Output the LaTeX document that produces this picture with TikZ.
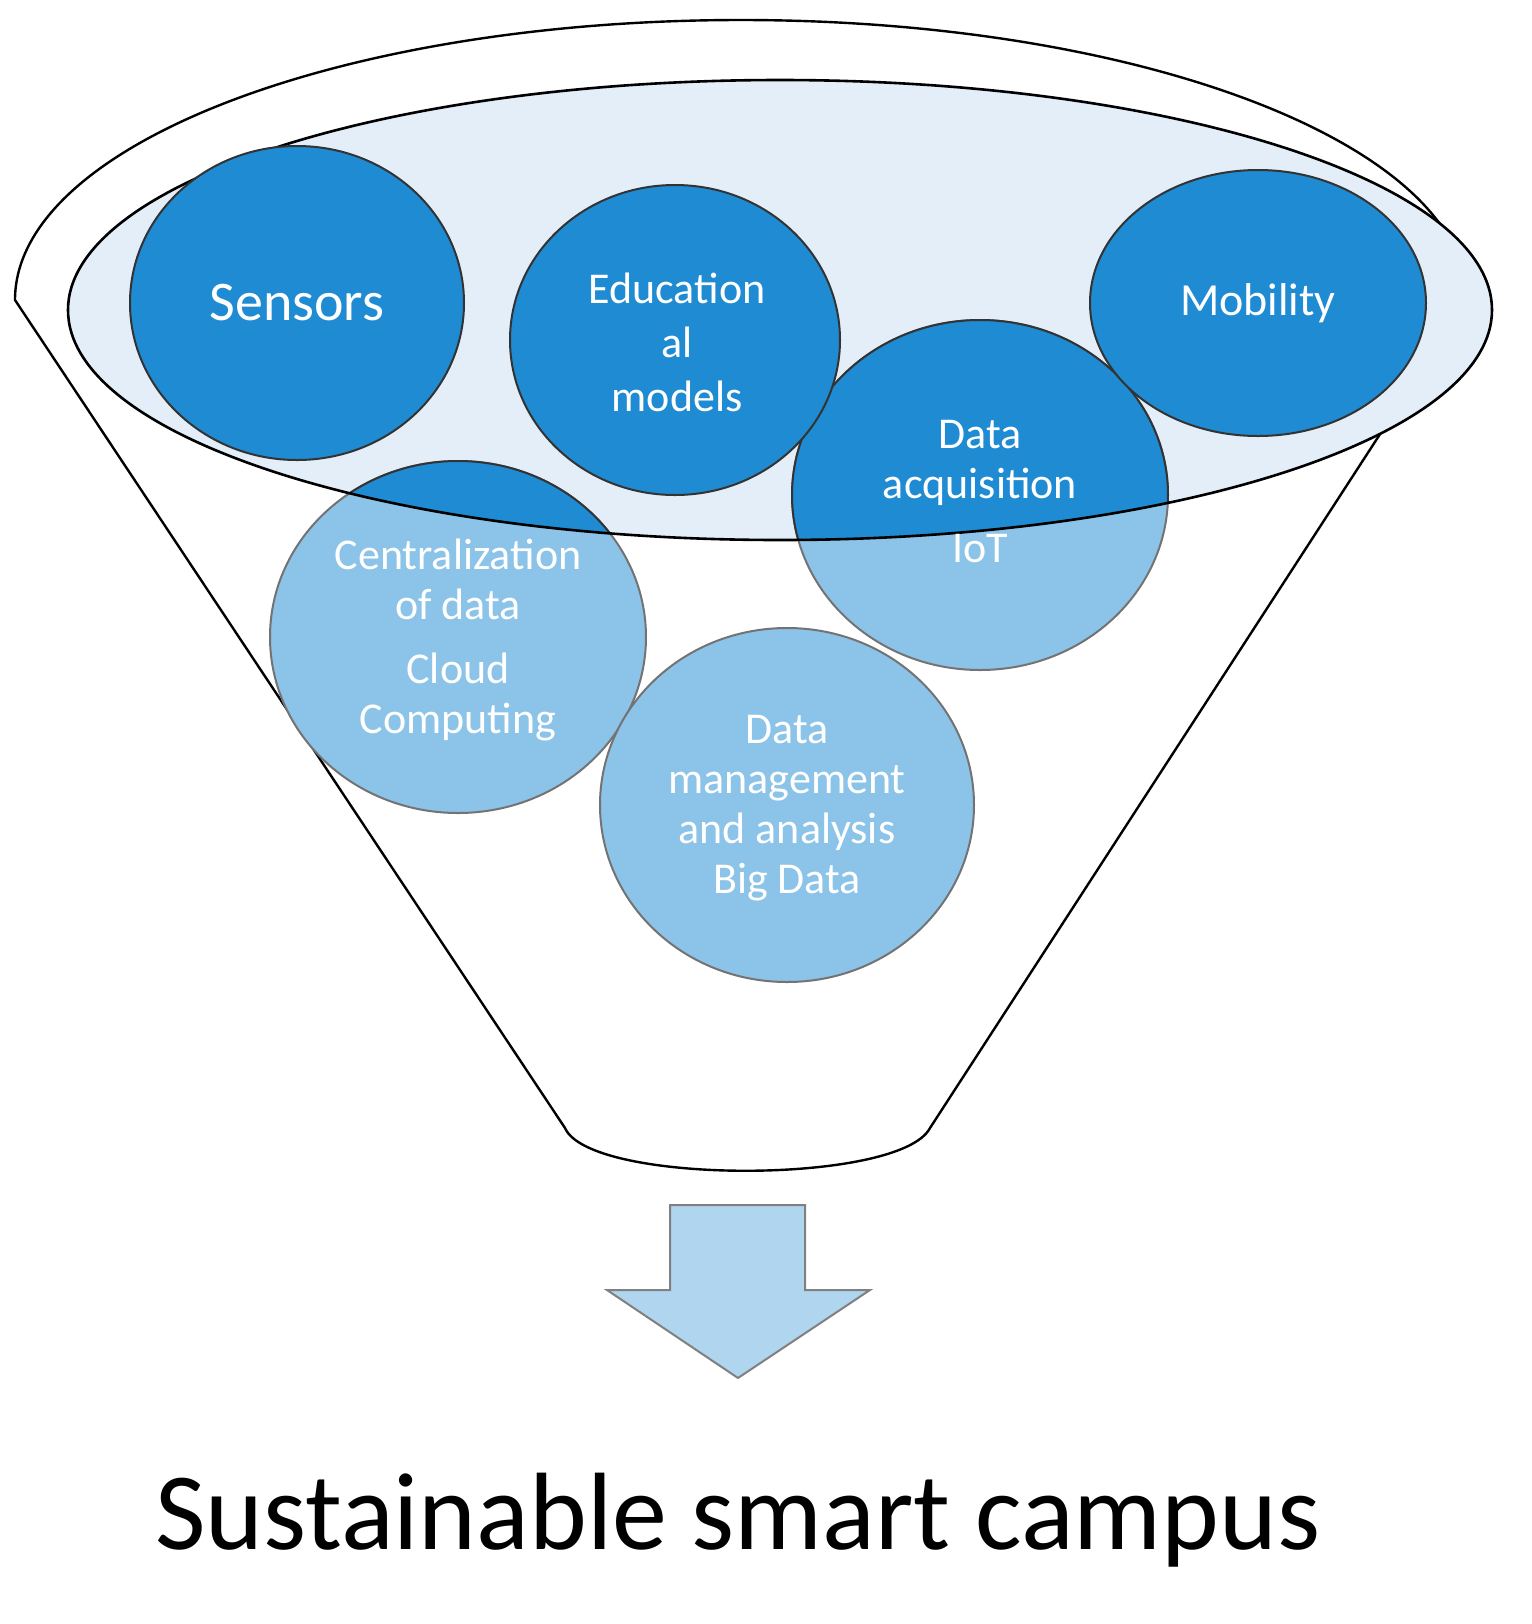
\documentclass[tikz,border=0pt]{standalone}
\usepackage{fontspec}
\setmainfont{Carlito}
\begin{document}
\begin{tikzpicture}[x=0.5pt,y=-0.5pt]
\definecolor{dk}{HTML}{1F8BD3}
\definecolor{lt}{HTML}{8CC3E8}
\definecolor{pale}{HTML}{E3EEF9}
\tikzset{dark/.style={fill=dk,draw=black!80,line width=1pt},
 light/.style={fill=lt,draw=black!55,line width=1pt},
 wt/.style={text=white,align=center,font=\fontsize{22}{26}\selectfont}}
\useasboundingbox (0,0) rectangle (1532,1624);
% funnel
\draw[line width=1.2pt] (15,300) arc[start angle=180,end angle=360,x radius=726,y radius=280]
  -- (930,1128) .. controls (900,1185) and (590,1185) .. (565,1128) -- cycle;
% inner ellipse fill
\fill[pale] (780,310) ellipse[x radius=712,y radius=230];
% light circles
\path[light] (980,495) ellipse[x radius=188,y radius=175];
\path[light] (458,637) ellipse[x radius=188,y radius=176];
\path[light] (787,805) ellipse[x radius=187,y radius=177];
\begin{scope}
\clip (780,310) ellipse[x radius=712,y radius=230];
\path[dark] (980,495) ellipse[x radius=188,y radius=175];
\path[dark] (458,637) ellipse[x radius=188,y radius=176];
\end{scope}
\draw[line width=1.3pt] (780,310) ellipse[x radius=712,y radius=230];
% dark circles
\path[dark] (297,303) ellipse[x radius=167,y radius=157];
\path[dark] (675,340) ellipse[x radius=165,y radius=155];
\path[dark] (1258,303) ellipse[x radius=168,y radius=133];
% texts
\node[wt,font=\fontsize{28}{32}\selectfont] (s) at (297,303) {Sensors};
\node[wt] (e) at (677,342) {Education\\[1pt]al\\[1pt]models};
\node[wt,font=\fontsize{23}{27}\selectfont] (m) at (1258,303) {Mobility};
\node[wt] (d) at (980,492) {Data\\[-1pt]acquisition\\[6pt]IoT};
\node[wt] (c) at (458,640) {Centralization\\[-1pt]of data\\[6pt]Cloud\\[-1pt]Computing};
\node[wt] (b) at (787,808) {Data\\[-1pt]management\\[-1pt]and analysis\\[-1pt]Big Data};
% arrow
\path[fill=lt!70,draw=black!50,line width=1pt] (670,1205) -- (805,1205) -- (805,1290) -- (870,1290)
  -- (738,1378) -- (607,1290) -- (670,1290) -- cycle;
\node[font=\fontsize{55}{60}\selectfont] (t) at (738,1520) {Sustainable smart campus};
\end{tikzpicture}
\end{document}
